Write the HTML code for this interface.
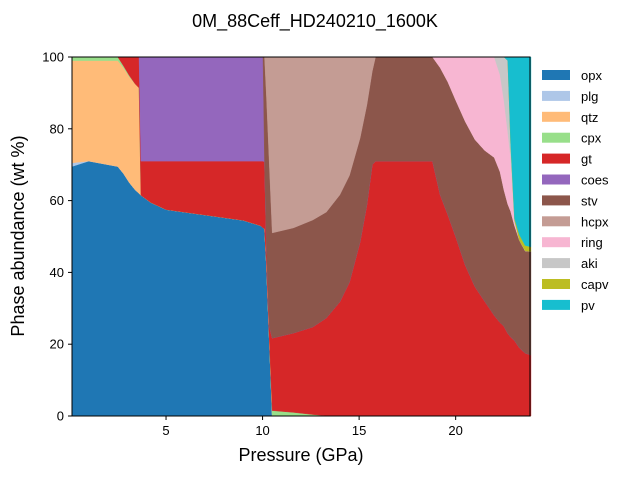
<!DOCTYPE html>
<html><head><meta charset="utf-8"><style>
html,body{margin:0;padding:0;background:#fff;}
svg text{font-family:"Liberation Sans","DejaVu Sans",sans-serif;}
</style></head><body>
<svg id="chart" width="630" height="475" viewBox="0 0 630 475" xmlns="http://www.w3.org/2000/svg">
<text x="315" y="27" font-size="18" text-anchor="middle">0M_88Ceff_HD240210_1600K</text>
<g id="areas"></g>
<rect x="72" y="57" width="458" height="359" fill="none" stroke="#000" stroke-width="1"/>
<g id="xticks"></g>
<g id="yticks"></g>
<text x="301" y="461" font-size="18" text-anchor="middle">Pressure (GPa)</text>
<text x="0" y="0" font-size="18" text-anchor="middle" transform="translate(24,236) rotate(-90)">Phase abundance (wt %)</text>
<g id="legend"></g>
</svg>
<script>
const pressure = [0.13,1,2,2.5,2.8,3.1,3.4,3.6,3.7,4.2,5,7,9,9.9,10.02,10.1,10.2,10.35,10.5,11.6,12.6,13.3,14.0,14.5,15.05,15.4,15.68,15.85,18.8,19.2,19.6,20,20.5,21,21.5,22,22.3,22.5,22.7,22.85,23.05,23.3,23.6,23.9];
const phases = ["opx","plg","qtz","cpx","gt","coes","stv","hcpx","ring","aki","capv","pv"];
const colors = ["#1f77b4","#aec7e8","#ffbb78","#98df8a","#d62728","#9467bd","#8c564b","#c49c94","#f7b6d2","#c7c7c7","#bcbd22","#17becf"];
const opx  = [69.5,71,70,69.5,67.5,65,63,62,61.5,59.5,57.5,56,54.5,53,52.4,52.2,42,21,0,0,0,0,0,0,0,0,0,0,0,0,0,0,0,0,0,0,0,0,0,0,0,0,0,0];
const plg  = [1,0,0,0,0,0,0,0,0,0,0,0,0,0,0,0,0,0,0,0,0,0,0,0,0,0,0,0,0,0,0,0,0,0,0,0,0,0,0,0,0,0,0,0];
const qtz  = [28.5,28,29,29.5,29.5,29.5,29.5,29.4,0,0,0,0,0,0,0,0,0,0,0,0,0,0,0,0,0,0,0,0,0,0,0,0,0,0,0,0,0,0,0,0,0,0,0,0];
const cpx  = [1,1,1,1,0.5,0.3,0,0,0,0,0,0,0,0,0,0,0,0,1.5,1,0.4,0.1,0,0,0,0,0,0,0,0,0,0,0,0,0,0,0,0,0,0,0,0,0,0];
const gt   = [0,0,0,0,2.5,5.2,7.5,8.6,9.5,11.5,13.5,15,16.5,18,18.6,18.6,5,4,20.2,22.1,24.4,27.2,31.8,37.3,48.5,58.8,70,71,71,61.6,56,50,42,36,32,28,26,25,23,22,21,19,17.5,17];
const coes = [0,0,0,0,0,0,0,0,29,29,29,29,29,29,29,0,0,0,0,0,0,0,0,0,0,0,0,0,0,0,0,0,0,0,0,0,0,0,0,0,0,0,0,0];
const stv  = [0,0,0,0,0,0,0,0,0,0,0,0,0,0,0,29.2,42,45,29.3,29.3,29.8,29.5,29.8,29.7,28.9,27.8,26,29,29,35.4,37,38,40,41,42,44,42,38,36,35,32,30,28.5,28.8];
const hcpx = [0,0,0,0,0,0,0,0,0,0,0,0,0,0,0,0,11,30,49,47.6,45.4,43.2,38.4,33,22.6,13.4,4,0,0,0,0,0,0,0,0,0,0,0,0,0,0,0,0,0];
const ring = [0,0,0,0,0,0,0,0,0,0,0,0,0,0,0,0,0,0,0,0,0,0,0,0,0,0,0,0,0,3,7,12,18,23,26,28,27,25,20,15,1,0,0,0];
const aki  = [0,0,0,0,0,0,0,0,0,0,0,0,0,0,0,0,0,0,0,0,0,0,0,0,0,0,0,0,0,0,0,0,0,0,0,0,5,12,20,4,0.5,0,0,0];
const capv = [0,0,0,0,0,0,0,0,0,0,0,0,0,0,0,0,0,0,0,0,0,0,0,0,0,0,0,0,0,0,0,0,0,0,0,0,0,0,0,0,0.5,1.5,1.5,1.3];
const pv   = [0,0,0,0,0,0,0,0,0,0,0,0,0,0,0,0,0,0,0,0,0,0,0,0,0,0,0,0,0,0,0,0,0,0,0,0,0,0,1,24,45,49.5,52.5,52.9];
const xTicks = [5,10,15,20];
const yTicks = [0,20,40,60,80,100];
const series = [opx,plg,qtz,cpx,gt,coes,stv,hcpx,ring,aki,capv,pv];

const X0=72,X1=530,Y0=416,Y1=57,PMIN=0.13,PMAX=23.85;
const xs = p => X0 + (p-PMIN)/(PMAX-PMIN)*(X1-X0);
const ys = v => Y0 - v/100*(Y0-Y1);
const NS="http://www.w3.org/2000/svg";
const areas=document.getElementById('areas');
let cum = pressure.map(()=>0);
series.forEach((s,i)=>{
  const top = cum.map((c,j)=>c+s[j]);
  let pts=[];
  pressure.forEach((p,j)=>pts.push(xs(p).toFixed(2)+","+ys(Math.min(top[j],100)).toFixed(2)));
  for(let j=pressure.length-1;j>=0;j--) pts.push(xs(pressure[j]).toFixed(2)+","+ys(Math.min(cum[j],100)).toFixed(2));
  const poly=document.createElementNS(NS,'polygon');
  poly.setAttribute('points',pts.join(' '));
  poly.setAttribute('fill',colors[i]);
  poly.setAttribute('stroke',colors[i]);
  poly.setAttribute('stroke-width','0.4');
  
  
  areas.appendChild(poly);
  cum=top;
});
const xt=document.getElementById('xticks');
xTicks.forEach(t=>{
  const x=xs(t);
  const l=document.createElementNS(NS,'line');
  l.setAttribute('x1',x);l.setAttribute('x2',x);l.setAttribute('y1',416);l.setAttribute('y2',420);l.setAttribute('stroke','#000');
  
  
  xt.appendChild(l);
  const tx=document.createElementNS(NS,'text');
  tx.setAttribute('x',x);tx.setAttribute('y',435);tx.setAttribute('font-size','13');tx.setAttribute('text-anchor','middle');
  tx.textContent=t;
  
  
  xt.appendChild(tx);
});
const yt=document.getElementById('yticks');
yTicks.forEach(t=>{
  const y=ys(t);
  const l=document.createElementNS(NS,'line');
  l.setAttribute('x1',68);l.setAttribute('x2',72);l.setAttribute('y1',y);l.setAttribute('y2',y);l.setAttribute('stroke','#000');
  
  
  yt.appendChild(l);
  const tx=document.createElementNS(NS,'text');
  tx.setAttribute('x',64);tx.setAttribute('y',y+4.5);tx.setAttribute('font-size','13');tx.setAttribute('text-anchor','end');
  tx.textContent=t;
  
  
  yt.appendChild(tx);
});
const lg=document.getElementById('legend');
phases.forEach((ph,i)=>{
  const y=70+i*20.9;
  const g=document.createElementNS(NS,'g');
  
  
  const r=document.createElementNS(NS,'rect');
  r.setAttribute('x',542);r.setAttribute('y',y);r.setAttribute('width',28);r.setAttribute('height',10);r.setAttribute('fill',colors[i]);
  g.appendChild(r);
  const tx=document.createElementNS(NS,'text');
  tx.setAttribute('x',581);tx.setAttribute('y',y+10);tx.setAttribute('font-size','13');
  tx.textContent=ph;
  g.appendChild(tx);
  lg.appendChild(g);
});
</script>
</body></html>
